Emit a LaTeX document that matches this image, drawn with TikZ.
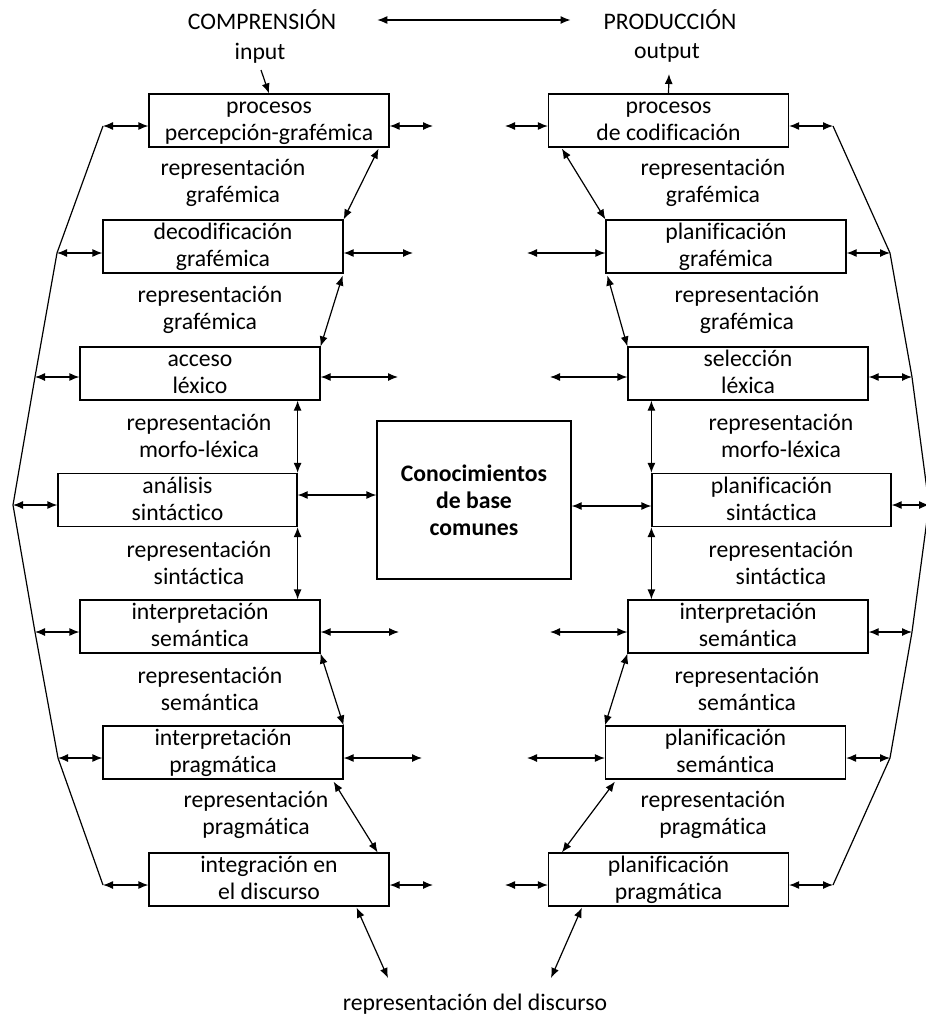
\documentclass[tikz,border=0pt]{standalone}
\usepackage{fontspec}
\setmainfont{Carlito}[Ligatures=NoCommon]
\usetikzlibrary{arrows.meta,calc}

\begin{document}
\begin{tikzpicture}[
  x=1pt, y=-1pt,
  font=\fontsize{23.7}{27}\selectfont,
  caja/.style={draw, line width=1.2pt, inner sep=0pt, align=center},
  nivel/.style={caja, minimum width=240pt, minimum height=53pt, text height=46.5pt, text depth=6.5pt},
  rotulo/.style={align=center, inner sep=0pt},
  punta/.tip={Latex[length=10pt,width=8pt]},
  flecha/.style={punta-punta, line width=1.2pt},
  simple/.style={-punta, line width=1.2pt},
  borde/.style={line width=1.2pt, line join=round}
]

\useasboundingbox (0,0) rectangle (926,1021);

% Titulos
\node[rotulo] (comp) at (262,20) {COMPRENSIÓN};
\node[rotulo] (prod) at (670,20) {PRODUCCIÓN};
\node[rotulo] (inp) at (260,53) {input};
\node[rotulo] (outp) at (667,53) {output};

\draw[flecha]
($(comp.east)+(41,0)$)
--
($(prod.west)+(-33,0)$);

% Cajas comprension
\node[nivel] (L1) at (269,120.5) {procesos\\percepción-grafémica};
\node[nivel] (L2) at (223,246.5) {decodificación\\grafémica};
\node[nivel] (L3) at (200,373.5) {acceso\\léxico};
\node[nivel, minimum width=239pt] (L4) at (177.5,500) {análisis\\sintáctico};
\node[nivel] (L5) at (200,626.5) {interpretación\\semántica};
\node[nivel] (L6) at (223,752.5) {interpretación\\pragmática};
\node[nivel] (L7) at (269,879.5) {integración en\\el discurso};

% Cajas produccion
\node[nivel] (R1) at (668.5,120.5) {procesos\\de codificación};
\node[nivel] (R2) at (726,246.5) {planificación\\grafémica};
\node[nivel] (R3) at (748,373.5) {selección\\léxica};
\node[nivel, minimum width=239pt] (R4) at (771.5,500) {planificación\\sintáctica};
\node[nivel] (R5) at (748,626.5) {interpretación\\semántica};
\node[nivel] (R6) at (725.5,752.5) {planificación\\semántica};
\node[nivel] (R7) at (668.5,879.5) {planificación\\pragmática};

% Conocimientos
\node[caja, minimum width=194pt, minimum height=158pt, font=\fontsize{23.7}{27}\selectfont\bfseries]
(C) at (474,500) {Conocimientos\\de base\\comunes};

% Representaciones
\node[rotulo] (gL1) at (233,183) {representación\\grafémica};
\node[rotulo] (gL2) at (210,310) {representación\\grafémica};
\node[rotulo] (gL3) at (199,436) {representación\\morfo-léxica};
\node[rotulo] (gL4) at (199,563) {representación\\sintáctica};
\node[rotulo] (gL5) at (210,689) {representación\\semántica};
\node[rotulo] (gL6) at (256,815) {representación\\pragmática};

\node[rotulo] (gR1) at (713,183) {representación\\grafémica};
\node[rotulo] (gR2) at (747,310) {representación\\grafémica};
\node[rotulo] (gR3) at (781,436) {representación\\morfo-léxica};
\node[rotulo] (gR4) at (781,563) {representación\\sintáctica};
\node[rotulo] (gR5) at (747,689) {representación\\semántica};
\node[rotulo] (gR6) at (713,815) {representación\\pragmática};

\node[rotulo] (disc) at (475,1004) {representación del discurso};

% Vertices de los bordes
\coordinate (VL1) at (103,126);
\coordinate (VL2) at (57,253);
\coordinate (VL3) at (35,377);
\coordinate (VL4) at (13,505);
\coordinate (VL5) at (35,632);
\coordinate (VL6) at (58,758);
\coordinate (VL7) at (103,885);

\coordinate (VR1) at (833,126);
\coordinate (VR2) at (890,253);
\coordinate (VR3) at (912,377);
\coordinate (VR4) at (929,505);
\coordinate (VR5) at (912,632);
\coordinate (VR6) at (890,758);
\coordinate (VR7) at (833,885);

\draw[borde]
(VL1) -- (VL2) -- (VL3) -- (VL4) -- (VL5) -- (VL6) -- (VL7);
\draw[borde]
(VR1) -- (VR2) -- (VR3) -- (VR4) -- (VR5) -- (VR6) -- (VR7);

% Flechas hacia los bordes
\foreach \i in {1,...,7} {
  \draw[flecha] (VL\i) -- (VL\i -| L\i.west);
  \draw[flecha] (VR\i -| R\i.east) -- (VR\i);
}

% Flechas libres hacia el centro
\coordinate (FL1) at (433,126);
\coordinate (FL2) at (413,253);
\coordinate (FL3) at (398,377);
\coordinate (FL5) at (399,632);
\coordinate (FL6) at (422,758);
\coordinate (FL7) at (433,885);
\coordinate (FR1) at (505,126);
\coordinate (FR2) at (527,253);
\coordinate (FR3) at (550,377);
\coordinate (FR5) at (550,632);
\coordinate (FR6) at (527,758);
\coordinate (FR7) at (505,885);

\foreach \i in {1,2,3,5,6,7} {
  \draw[flecha] (FL\i -| L\i.east) -- (FL\i);
  \draw[flecha] (FR\i) -- (FR\i -| R\i.west);
}

\draw[flecha]
($(L4.east)+(0,-5)$)
--
($(C.west)+(0,-5)$);
\draw[flecha]
($(C.east)+(0,6)$)
--
($(R4.west)+(0,6)$);

% Entre niveles, comprension
\draw[flecha] ($(L1.south east)+(-11,1)$) -- (L2.north east);
\draw[flecha] ($(L2.south east)+(-1,2)$) -- (L3.north east);
\draw[flecha] (L4.north east |- L3.south) -- (L4.north east);
\draw[flecha] (L4.south east) -- (L4.south east |- L5.north);
\draw[flecha] (L5.south east) -- (L6.north east);
\draw[flecha] ($(L6.south east)+(-10,2)$) -- ($(L7.north east)+(-12,0)$);

% Entre niveles, produccion
\draw[flecha] ($(R1.south west)+(14,1)$) -- (R2.north west);
\draw[flecha] ($(R2.south west)+(2,2)$) -- (R3.north west);
\draw[flecha] (R4.north west |- R3.south) -- (R4.north west);
\draw[flecha] (R4.south west) -- (R4.south west |- R5.north);
\draw[flecha] (R5.south west) -- (R6.north west);
\draw[flecha] ($(R6.south west)+(10,2)$) -- ($(R7.north west)+(14,0)$);

% Input, output y discurso
\coordinate (inA) at (261,70);
\coordinate (outA) at (669,74);
\coordinate (BL) at (388,978);
\coordinate (BR) at (551,978);

\draw[simple] (inA) -- (L1.north);
\draw[simple] (R1.north) -- (outA);
\draw[flecha] ($(L7.south east)+(-33,1)$) -- (BL);
\draw[flecha] ($(R7.south west)+(34,1)$) -- (BR);

\end{tikzpicture}
\end{document}
